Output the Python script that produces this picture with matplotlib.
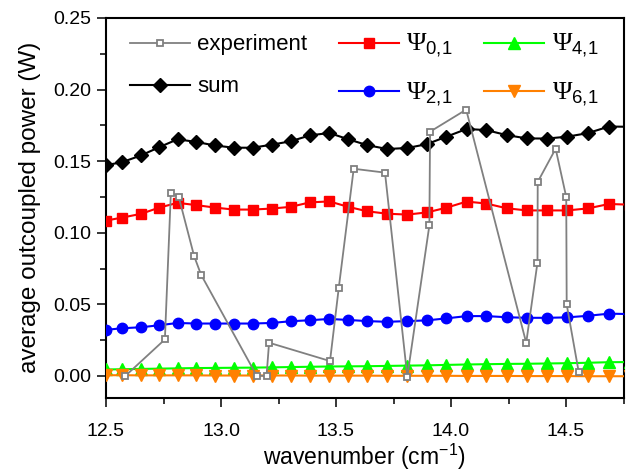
import matplotlib
matplotlib.use("Agg")
import matplotlib.pyplot as plt
from matplotlib.ticker import MultipleLocator, FormatStrFormatter

plt.rcParams['font.family'] = ['Liberation Sans', 'DejaVu Sans']
plt.rcParams['mathtext.fontset'] = 'custom'
plt.rcParams['mathtext.rm'] = 'Liberation Serif'
plt.rcParams['mathtext.sf'] = 'Liberation Sans'
plt.rcParams['mathtext.it'] = 'Liberation Sans:italic'

# ---- data ----
wavenumber = [12.500, 12.570, 12.652, 12.732, 12.811, 12.893, 12.973, 13.055, 13.137, 13.220,
              13.303, 13.386, 13.471, 13.553, 13.636, 13.722, 13.810, 13.895, 13.980, 14.068,
              14.154, 14.242, 14.330, 14.417, 14.505, 14.595, 14.687, 14.780]
psi_sum = [0.1472, 0.1493, 0.1540, 0.1598, 0.1653, 0.1634, 0.1610, 0.1594, 0.1594, 0.1615,
           0.1639, 0.1680, 0.1697, 0.1653, 0.1612, 0.1585, 0.1592, 0.1619, 0.1671, 0.1725,
           0.1717, 0.1682, 0.1659, 0.1658, 0.1671, 0.1696, 0.1742, 0.1740]
psi_01 = [0.1085, 0.1106, 0.1132, 0.1176, 0.1209, 0.1193, 0.1176, 0.1162, 0.1162, 0.1169,
          0.1181, 0.1212, 0.1219, 0.1181, 0.1150, 0.1133, 0.1127, 0.1142, 0.1175, 0.1218,
          0.1204, 0.1171, 0.1156, 0.1156, 0.1156, 0.1170, 0.1201, 0.1196]
psi_21 = [0.0322, 0.0333, 0.0340, 0.0354, 0.0370, 0.0366, 0.0366, 0.0366, 0.0366, 0.0370,
          0.0382, 0.0389, 0.0398, 0.0391, 0.0383, 0.0378, 0.0383, 0.0388, 0.0402, 0.0418,
          0.0418, 0.0410, 0.0406, 0.0406, 0.0409, 0.0420, 0.0435, 0.0432]
psi_41 = [0.0045, 0.0047, 0.0049, 0.0051, 0.0053, 0.0055, 0.0056, 0.0057, 0.0058, 0.0060,
          0.0062, 0.0064, 0.0066, 0.0067, 0.0068, 0.0070, 0.0072, 0.0074, 0.0077, 0.0080,
          0.0082, 0.0084, 0.0085, 0.0087, 0.0089, 0.0092, 0.0096, 0.0097]
psi_61 = [0.0005, 0.0005, 0.0004, 0.0004, 0.0004, 0.0004, 0.0003, 0.0003, 0.0003, 0.0003,
          0.0003, 0.0002, 0.0002, 0.0002, 0.0002, 0.0001, 0.0001, 0.0001, 0.0001, 0.0000,
          0.0000, 0.0000, -0.0001, -0.0001, -0.0001, -0.0002, -0.0002, -0.0002]

exp_wavenumber = [12.584, 12.756, 12.782, 12.816, 12.883, 12.913, 13.155, 13.198, 13.209, 13.474,
                  13.512, 13.577, 13.713, 13.810, 13.906, 13.909, 14.066, 14.327, 14.376, 14.377,
                  14.455, 14.501, 14.503, 14.555]
exp_power = [0.0000, 0.0255, 0.1279, 0.1252, 0.0838, 0.0708, 0.0002, 0.0000, 0.0232, 0.0104,
             0.0615, 0.1447, 0.1420, -0.0005, 0.1052, 0.1706, 0.1860, 0.0231, 0.0792, 0.1355,
             0.1587, 0.1250, 0.0499, 0.0030]

labels = ['experiment', 'sum',
          r'$\mathrm{\Psi}_{\mathsf{0{,}1}}$', r'$\mathrm{\Psi}_{\mathsf{2{,}1}}$',
          r'$\mathrm{\Psi}_{\mathsf{4{,}1}}$', r'$\mathrm{\Psi}_{\mathsf{6{,}1}}$']

fig = plt.figure(figsize=(6.27, 4.71), dpi=100)
ax = fig.add_axes([106 / 627, 1 - 397.7 / 471, (623.5 - 106) / 627, (397.7 - 18) / 471])

lw = 1.5
h_sum, = ax.plot(wavenumber, psi_sum, color='black', lw=lw, marker='D', ms=7, zorder=3)
h01, = ax.plot(wavenumber, psi_01, color='#ff0000', lw=lw, marker='s', ms=7, zorder=3)
h21, = ax.plot(wavenumber, psi_21, color='#0000ff', lw=lw, marker='o', ms=7.5, zorder=3)
h41, = ax.plot(wavenumber, psi_41, color='#00ff00', lw=lw, marker='^', ms=8.5, zorder=3)
h61, = ax.plot(wavenumber, psi_61, color='#ff8000', lw=lw, marker='v', ms=8.5, zorder=3)
h_exp, = ax.plot(exp_wavenumber, exp_power, color='#808080', lw=1.3, marker='s', ms=5,
                 mfc='white', mec='#808080', mew=1.3, zorder=4)

ax.set_xlim(12.5, 14.75)
ax.set_ylim(-0.0152, 0.25)
ax.xaxis.set_major_locator(MultipleLocator(0.5))
ax.xaxis.set_minor_locator(MultipleLocator(0.25))
ax.yaxis.set_major_locator(MultipleLocator(0.05))
ax.yaxis.set_minor_locator(MultipleLocator(0.025))
ax.xaxis.set_major_formatter(FormatStrFormatter('%.1f'))
ax.yaxis.set_major_formatter(FormatStrFormatter('%.2f'))
ax.tick_params(which='major', direction='out', length=6.5, width=1.1, labelsize=14, pad=4)
ax.tick_params(which='minor', direction='out', length=4.5, width=1.1)
ax.tick_params(axis='x', which='major', pad=12)
for s in ax.spines.values():
    s.set_linewidth(1.5)

ax.set_xlabel(r'wavenumber (cm$^{\mathsf{-1}}$)', fontsize=16.5, labelpad=1)
ax.set_ylabel('average outcoupled power (W)', fontsize=17.5, labelpad=9)

leg = ax.legend([h_exp, h_sum, h01, h21, h41, h61], labels, ncol=3, loc='upper left',
                bbox_to_anchor=(0.02, 1.0), frameon=False, fontsize=16, numpoints=1,
                handlelength=2.7, handletextpad=0.35, columnspacing=1.4, labelspacing=0.95,
                borderaxespad=0.2)
for t in leg.get_texts()[2:]:
    t.set_fontsize(19)

fig.savefig('out.png', dpi=100)
